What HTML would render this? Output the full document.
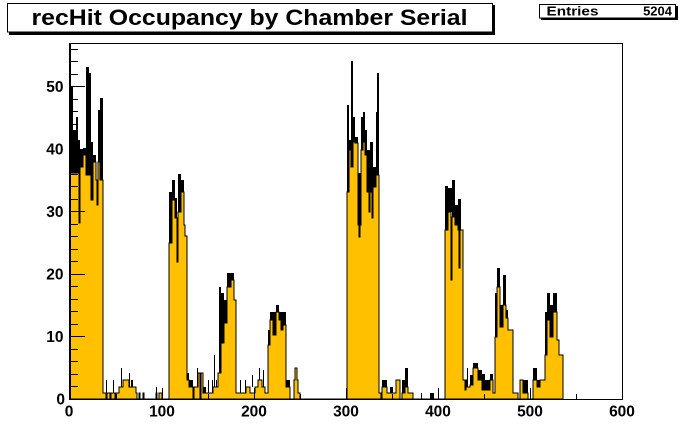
<!DOCTYPE html>
<html>
<head>
<meta charset="utf-8">
<style>
html,body{margin:0;padding:0;background:#fff;}
svg{display:block;}
text{font-family:"Liberation Sans",Arial,sans-serif;font-weight:bold;fill:#000;}
</style>
</head>
<body>
<svg width="692" height="444" viewBox="0 0 692 444" xmlns="http://www.w3.org/2000/svg">
<rect x="0" y="0" width="692" height="444" fill="#fff"/>
<rect x="9" y="5" width="486" height="30" fill="#000"/>
<rect x="7.5" y="3.5" width="485" height="28.5" fill="#fff" stroke="#000" stroke-width="1"/>
<text x="31.5" y="25" font-size="22" textLength="436" lengthAdjust="spacingAndGlyphs">recHit Occupancy by Chamber Serial</text>
<rect x="541" y="6" width="137" height="14" fill="#000"/>
<rect x="539.5" y="4.5" width="136" height="13.5" fill="#fff" stroke="#000" stroke-width="1"/>
<text x="546.5" y="15.5" style="font-size:13px" textLength="52" lengthAdjust="spacingAndGlyphs">Entries</text>
<text x="672" y="15.5" style="font-size:13px" text-anchor="end">5204</text>
<g shape-rendering="crispEdges">
<g fill="#000">
<rect x="70" y="148" width="1" height="7"/>
<rect x="71" y="87" width="2" height="86"/>
<rect x="73" y="130" width="3" height="43"/>
<rect x="76" y="117" width="2" height="56"/>
<rect x="78" y="140" width="2" height="83"/>
<rect x="80" y="150" width="3" height="17"/>
<rect x="83" y="148" width="3" height="7"/>
<rect x="86" y="67" width="3" height="108"/>
<rect x="89" y="73" width="2" height="102"/>
<rect x="91" y="142" width="2" height="58"/>
<rect x="93" y="155" width="3" height="7"/>
<rect x="98" y="110" width="2" height="52"/>
<rect x="100" y="98" width="3" height="82"/>
<rect x="106" y="380" width="1" height="19"/>
<rect x="113" y="380" width="1" height="13"/>
<rect x="121" y="368" width="1" height="19"/>
<rect x="129" y="373" width="1" height="14"/>
<rect x="131" y="380" width="2" height="7"/>
<rect x="156" y="387" width="1" height="6"/>
<rect x="169" y="192" width="3" height="51"/>
<rect x="172" y="180" width="3" height="20"/>
<rect x="175" y="198" width="2" height="20"/>
<rect x="178" y="174" width="3" height="38"/>
<rect x="181" y="180" width="3" height="12"/>
<rect x="187" y="373" width="2" height="7"/>
<rect x="189" y="380" width="4" height="7"/>
<rect x="197" y="368" width="1" height="19"/>
<rect x="203" y="387" width="3" height="6"/>
<rect x="208" y="380" width="1" height="13"/>
<rect x="212" y="380" width="1" height="13"/>
<rect x="214" y="355" width="1" height="32"/>
<rect x="216" y="380" width="1" height="7"/>
<rect x="219" y="287" width="2" height="86"/>
<rect x="221" y="293" width="3" height="50"/>
<rect x="224" y="300" width="3" height="23"/>
<rect x="227" y="273" width="4" height="14"/>
<rect x="231" y="273" width="3" height="7"/>
<rect x="240" y="380" width="1" height="13"/>
<rect x="245" y="380" width="1" height="13"/>
<rect x="252" y="375" width="1" height="12"/>
<rect x="259" y="368" width="1" height="12"/>
<rect x="263" y="370" width="1" height="17"/>
<rect x="268" y="330" width="2" height="15"/>
<rect x="270" y="312" width="3" height="8"/>
<rect x="273" y="312" width="3" height="23"/>
<rect x="276" y="305" width="3" height="7"/>
<rect x="279" y="312" width="2" height="8"/>
<rect x="281" y="312" width="2" height="18"/>
<rect x="283" y="312" width="3" height="13"/>
<rect x="286" y="380" width="4" height="7"/>
<rect x="347" y="105" width="2" height="87"/>
<rect x="349" y="140" width="2" height="10"/>
<rect x="351" y="61" width="2" height="106"/>
<rect x="353" y="117" width="2" height="25"/>
<rect x="355" y="137" width="3" height="6"/>
<rect x="358" y="173" width="3" height="52"/>
<rect x="361" y="117" width="2" height="33"/>
<rect x="363" y="112" width="2" height="30"/>
<rect x="365" y="130" width="2" height="25"/>
<rect x="367" y="150" width="3" height="42"/>
<rect x="370" y="142" width="3" height="50"/>
<rect x="373" y="167" width="3" height="20"/>
<rect x="376" y="112" width="1" height="63"/>
<rect x="377" y="73" width="2" height="102"/>
<rect x="382" y="380" width="5" height="7"/>
<rect x="390" y="387" width="3" height="6"/>
<rect x="402" y="380" width="3" height="13"/>
<rect x="405" y="368" width="3" height="19"/>
<rect x="421" y="393" width="1" height="6"/>
<rect x="430" y="393" width="4" height="6"/>
<rect x="445" y="186" width="3" height="44"/>
<rect x="448" y="188" width="4" height="24"/>
<rect x="452" y="180" width="3" height="37"/>
<rect x="455" y="205" width="3" height="20"/>
<rect x="458" y="199" width="3" height="31"/>
<rect x="467" y="368" width="1" height="19"/>
<rect x="470" y="375" width="3" height="10"/>
<rect x="473" y="363" width="5" height="5"/>
<rect x="478" y="370" width="4" height="10"/>
<rect x="482" y="374" width="3" height="16"/>
<rect x="485" y="380" width="5" height="10"/>
<rect x="490" y="374" width="3" height="6"/>
<rect x="495" y="293" width="2" height="44"/>
<rect x="497" y="268" width="3" height="19"/>
<rect x="500" y="305" width="3" height="22"/>
<rect x="503" y="275" width="3" height="30"/>
<rect x="506" y="310" width="2" height="8"/>
<rect x="523" y="380" width="5" height="13"/>
<rect x="533" y="368" width="4" height="12"/>
<rect x="537" y="380" width="3" height="7"/>
<rect x="545" y="312" width="2" height="43"/>
<rect x="547" y="293" width="3" height="27"/>
<rect x="550" y="305" width="3" height="32"/>
<rect x="553" y="293" width="4" height="19"/>
</g>
<path fill="#ffc000" stroke="#000" stroke-width="1" d="M70 399 V155 H71 V173 H79 V223 H80 V167 H83 V155 H86 V175 H91 V200 H93 V162 H96 V180 H97 V205 H98 V162 H100 V180 H103 V393 H106 V399 H107 V393 H110 V399 H111 V393 H115 V399 H116 V393 H119 V387 H123 V380 H129 V387 H136 V393 H137 V399 H139 V393 H140 V399 H143 V393 H144 V399 H156 V393 H157 V399 H159 V393 H162 V399 H169 V243 H172 V200 H175 V218 H177 V262 H178 V212 H181 V192 H184 V225 H185 V236 H187 V380 H189 V387 H193 V399 H194 V387 H198 V373 H200 V399 H201 V373 H203 V393 H213 V387 H218 V373 H221 V343 H224 V323 H227 V287 H231 V280 H234 V300 H236 V393 H246 V387 H250 V393 H255 V387 H258 V380 H262 V387 H265 V393 H268 V345 H270 V320 H273 V335 H276 V312 H279 V320 H281 V330 H283 V325 H286 V387 H290 V399 H294 V380 H295 V368 H297 V380 H298 V393 H300 V399 H347 V192 H349 V150 H351 V167 H353 V142 H355 V143 H358 V225 H359 V237 H360 V225 H361 V150 H363 V142 H365 V155 H367 V192 H369 V212 H370 V192 H372 V218 H373 V187 H376 V175 H379 V393 H381 V399 H382 V387 H387 V393 H396 V380 H400 V399 H402 V393 H405 V387 H408 V393 H413 V399 H445 V230 H448 V212 H451 V280 H452 V217 H455 V225 H458 V230 H459 V268 H460 V230 H463 V380 H465 V390 H466 V380 H467 V387 H470 V385 H473 V368 H478 V380 H482 V390 H490 V380 H493 V393 H495 V337 H497 V287 H500 V327 H503 V305 H506 V318 H508 V330 H513 V393 H518 V399 H520 V380 H523 V393 H528 V399 H533 V380 H537 V387 H540 V380 H545 V355 H547 V320 H550 V337 H553 V312 H557 V340 H559 V355 H563 V399 Z"/>
<rect x="69.5" y="43.5" width="553" height="356" fill="none" stroke="#000" stroke-width="1"/>
<line x1="70.5" y1="43" x2="70.5" y2="400" stroke="#000" stroke-width="1"/>
<path stroke="#000" stroke-width="1" fill="none" d="M70 336.5H85 M70 274.5H85 M70 211.5H85 M70 149.5H85 M70 86.5H85 M70 386.5H78 M70 374.5H78 M70 361.5H78 M70 349.5H78 M70 324.5H78 M70 311.5H78 M70 299.5H78 M70 286.5H78 M70 261.5H78 M70 249.5H78 M70 236.5H78 M70 224.5H78 M70 199.5H78 M70 186.5H78 M70 174.5H78 M70 161.5H78 M70 136.5H78 M70 124.5H78 M70 111.5H78 M70 99.5H78 M70 74.5H78 M70 61.5H78 M70 49.5H78"/>
<path stroke="#000" stroke-width="1" fill="none" d="M162.5 399V388 M254.5 399V388 M346.5 399V388 M438.5 399V388 M530.5 399V388 M116.5 399V394 M208.5 399V394 M300.5 399V394 M392.5 399V394 M484.5 399V394 M576.5 399V394"/>
</g>
<g font-size="15.5" text-anchor="end">
<text x="65" y="404.5">0</text>
<text x="63.5" y="342">10</text>
<text x="63.5" y="279.5">20</text>
<text x="63.5" y="217">30</text>
<text x="63.5" y="154.5">40</text>
<text x="63.5" y="92">50</text>
</g>
<g font-size="15.5" text-anchor="middle">
<text x="69" y="416.5">0</text>
<text x="162" y="416.5">100</text>
<text x="254" y="416.5">200</text>
<text x="346" y="416.5">300</text>
<text x="438" y="416.5">400</text>
<text x="530" y="416.5">500</text>
<text x="622" y="416.5">600</text>
</g>
</svg>
</body>
</html>
